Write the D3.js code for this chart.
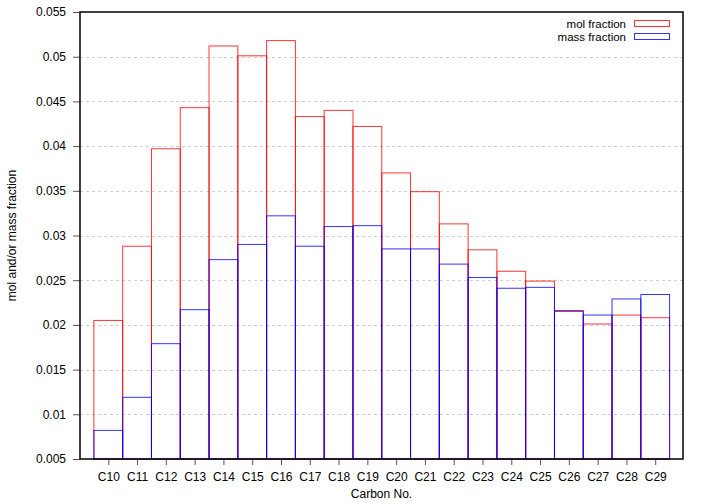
<!DOCTYPE html>
<html>
<head>
<meta charset="utf-8">
<script src="https://cdn.jsdelivr.net/npm/d3@7"></script>
<style>
html,body{margin:0;padding:0;background:#fff;}
svg{display:block;font-family:"Liberation Sans",Arial,sans-serif;}
</style>
</head>
<body>
<svg id="chart" width="705" height="504"></svg>
<script>
const categories = ["C10","C11","C12","C13","C14","C15","C16","C17","C18","C19","C20","C21","C22","C23","C24","C25","C26","C27","C28","C29"];
const carbonNo = [10,11,12,13,14,15,16,17,18,19,20,21,22,23,24,25,26,27,28,29];
const molFraction = [0.0205,0.0288,0.0397,0.0443,0.0512,0.0501,0.0518,0.0433,0.0440,0.0422,0.0370,0.0349,0.0313,0.0284,0.0260,0.0249,0.0215,0.0201,0.0211,0.0208];
const massFraction = [0.0082,0.0119,0.0179,0.0217,0.0273,0.0290,0.0322,0.0288,0.0310,0.0311,0.0285,0.0285,0.0268,0.0253,0.0241,0.0242,0.0216,0.0211,0.0229,0.0234];
const yTicks = [0.005,0.01,0.015,0.02,0.025,0.03,0.035,0.04,0.045,0.05,0.055];
const yTickLabels = ["0.005","0.01","0.015","0.02","0.025","0.03","0.035","0.04","0.045","0.05","0.055"];
const seriesNames = ["mol fraction","mass fraction"];
const seriesColors = ["#ff0000","#0000ff"];

const svg = d3.select("#chart");
const L = 80, R = 683, T = 12, B = 459;
const x = d3.scaleLinear().domain([9,30]).range([79.5,684]);
const y = d3.scaleLinear().domain([0.005,0.055]).range([B,T]);

// grid
svg.append("g").selectAll("line").data(yTicks.slice(1,-1)).join("line")
  .attr("x1",L).attr("x2",R)
  .attr("y1",d=>Math.round(y(d))+0.5).attr("y2",d=>Math.round(y(d))+0.5)
  .attr("stroke","#cfcfcf").attr("stroke-width",1).attr("stroke-dasharray","3,3");

// boxes
const series = [molFraction, massFraction];
series.forEach((vals,si)=>{
  svg.append("g").selectAll("rect").data(vals).join("rect")
    .attr("x",(d,i)=>x(carbonNo[i]-0.5))
    .attr("width",(d,i)=>x(carbonNo[i]+0.5)-x(carbonNo[i]-0.5))
    .attr("y",d=>y(d))
    .attr("height",d=>B-y(d))
    .attr("fill","none")
    .attr("stroke",seriesColors[si])
    .attr("stroke-opacity",0.8)
    .attr("stroke-width",1);
});

// y axis
const yAxis = d3.axisLeft(y).tickValues(yTicks).tickFormat((d,i)=>yTickLabels[i]).tickSize(7).tickPadding(7);
const gy = svg.append("g").attr("transform",`translate(${L},0)`).call(yAxis);
gy.select(".domain").remove();
gy.selectAll(".tick line").attr("stroke","#555");
gy.selectAll("text").attr("font-size","12px").attr("fill","#000").attr("font-family","Liberation Sans, Arial, sans-serif");

// x axis
const xAxis = d3.axisBottom(x).tickValues(carbonNo).tickFormat((d,i)=>categories[i]).tickSize(6).tickPadding(7);
const gx = svg.append("g").attr("transform",`translate(0,${B})`).call(xAxis);
gx.select(".domain").remove();
gx.selectAll(".tick line").attr("stroke","#555");
gx.selectAll("text").attr("font-size","12px").attr("fill","#000").attr("font-family","Liberation Sans, Arial, sans-serif");

// border
svg.append("rect").attr("x",L).attr("y",T).attr("width",R-L).attr("height",B-T)
  .attr("fill","none").attr("stroke","#000").attr("stroke-width",1.5);

// labels
svg.append("text").attr("x",(L+R)/2).attr("y",498).attr("text-anchor","middle")
  .attr("font-size","12px").text("Carbon No.");
svg.append("text").attr("transform",`translate(16,${(T+B)/2}) rotate(-90)`).attr("text-anchor","middle")
  .attr("font-size","12px").text("mol and/or mass fraction");

// legend
seriesNames.forEach((name,i)=>{
  const yy = 23.5 + i*13;
  svg.append("text").attr("x",626).attr("y",yy+4).attr("text-anchor","end")
    .attr("font-size","11.5px").text(name);
  svg.append("rect").attr("x",634.5).attr("y",yy-3).attr("width",35).attr("height",6)
    .attr("fill","none").attr("stroke",seriesColors[i]).attr("stroke-opacity",0.8).attr("stroke-width",1);
});
</script>
</body>
</html>
